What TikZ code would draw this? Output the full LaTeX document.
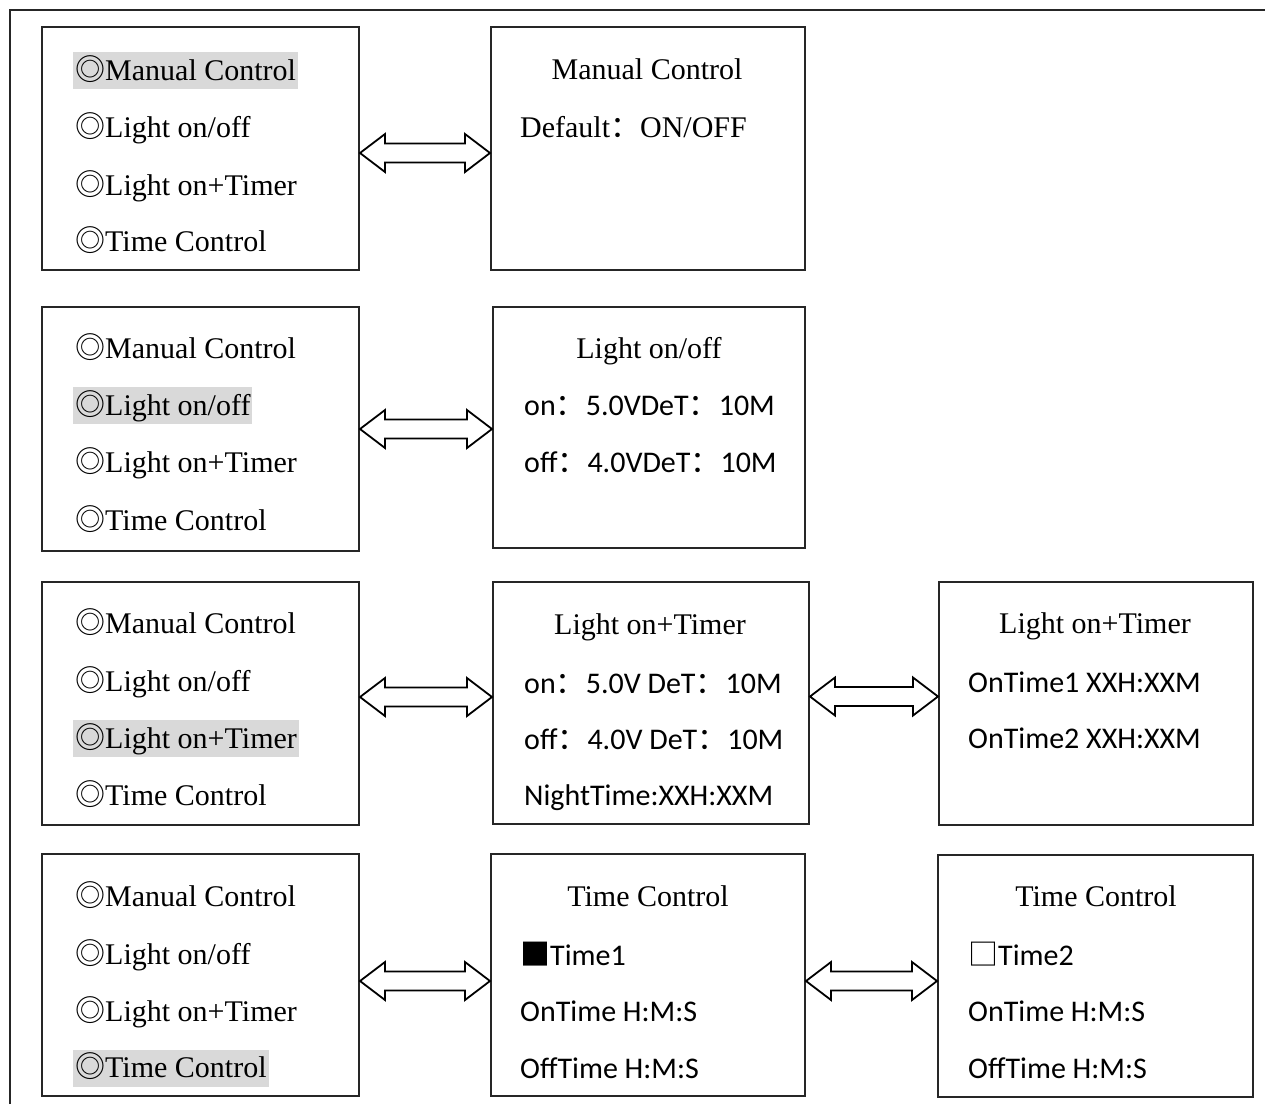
\documentclass[tikz,border=0pt]{standalone}
\usepackage{fontspec}
\setmainfont{Liberation Serif}
\newfontfamily\cjkfont{Noto Sans CJK SC}
\newfontfamily\calfont{Carlito}
\usetikzlibrary{calc}
\newcommand\dcirc{{\cjkfont ◎}}
\newcommand\fwc{{\cjkfont ：}}
\begin{document}
\begin{tikzpicture}[x=1pt,y=-1pt,
  panel/.style={draw=black!85, line width=2pt, rectangle, inner sep=0pt, anchor=north west},
  txt/.style={inner xsep=2pt, inner ysep=3pt, text height=25pt, text depth=6pt,
              font=\fontsize{30}{36}\selectfont},
  item/.style={txt, anchor=west},
  sans/.style={txt, anchor=west, font=\fontsize{30}{36}\selectfont\calfont},
  title/.style={txt, anchor=center},
  sel/.style={fill=black!15},
  fatarrow/.style={draw=black, line width=1.8pt, fill=white, line join=miter,
    to path={let \p1=(\tikztostart), \p2=(\tikztotarget) in
      (\x1,\y1) -- (\x1+25pt,\y1+19pt) -- (\x1+25pt,\y1+9.5pt) -- (\x2-25pt,\y1+9.5pt)
      -- (\x2-25pt,\y1+19pt) -- (\x2,\y1) -- (\x2-25pt,\y1-19pt) -- (\x2-25pt,\y1-9.5pt)
      -- (\x1+25pt,\y1-9.5pt) -- (\x1+25pt,\y1-19pt) -- cycle}}
]
\useasboundingbox (0,0) rectangle (1265,1104);
% outer frame
\draw[line width=1.8pt, black!85] (10,1104) -- (10,10) -- (1265,10);

% ---------- row 1 ----------
\node[panel, minimum width=317pt, minimum height=243pt] (L1) at (41,26) {};
\node[panel, minimum width=314pt, minimum height=243pt] (M1) at (490,26) {};
\node[item, sel] (L1a) at (73,70.5) {\dcirc Manual Control};
\node[item] (L1b) at (73,127.5) {\dcirc Light on/off};
\node[item] (L1c) at (73,186) {\dcirc Light on+Timer};
\node[item] (L1d) at (73,241.5) {\dcirc Time Control};
\node[title] (M1t) at (647,70) {Manual Control};
\node[item] (M1a) at (518,128) {Default\fwc ON/OFF};
\coordinate (A1) at ([yshift=-4.5pt]L1.east);
\draw[fatarrow] (A1) to (M1.west);

% ---------- row 2 ----------
\node[panel, minimum width=317pt, minimum height=244pt] (L2) at (41,306) {};
\node[panel, minimum width=312pt, minimum height=241pt] (M2) at (492,306) {};
\node[item] (L2a) at (73,349) {\dcirc Manual Control};
\node[item, sel] (L2b) at (73,405.5) {\dcirc Light on/off};
\node[item] (L2c) at (73,463) {\dcirc Light on+Timer};
\node[item] (L2d) at (73,520.5) {\dcirc Time Control};
\node[title] (M2t) at (649,349) {Light on/off};
\node[sans] (M2a) at (522,406) {on\fwc 5.0VDeT\fwc 10M};
\node[sans] (M2b) at (522,463) {off\fwc 4.0VDeT\fwc 10M};
\coordinate (A2) at (L2.east);
\draw[fatarrow] (A2) to (M2.west);

% ---------- row 3 ----------
\node[panel, minimum width=317pt, minimum height=243pt] (L3) at (41,581) {};
\node[panel, minimum width=316pt, minimum height=242pt] (M3) at (492,581) {};
\node[panel, minimum width=314pt, minimum height=243pt] (R3) at (938,581) {};
\node[item] (L3a) at (73,624) {\dcirc Manual Control};
\node[item] (L3b) at (73,682) {\dcirc Light on/off};
\node[item, sel] (L3c) at (73,738.5) {\dcirc Light on+Timer};
\node[item] (L3d) at (73,795.5) {\dcirc Time Control};
\node[title] (M3t) at (650,625) {Light on+Timer};
\node[sans] (M3a) at (522,684) {on\fwc 5.0V DeT\fwc 10M};
\node[sans] (M3b) at (522,740) {off\fwc 4.0V DeT\fwc 10M};
\node[sans] (M3c) at (522,796) {NightTime:XXH:XXM};
\node[title] (R3t) at (1095,624) {Light on+Timer};
\node[sans] (R3a) at (966,682.5) {OnTime1 XXH:XXM};
\node[sans] (R3b) at (966,738.5) {OnTime2 XXH:XXM};
\coordinate (A3) at ([yshift=6.5pt]L3.east);
\draw[fatarrow] (A3) to (M3.west);
\coordinate (B3) at ([yshift=6.5pt]M3.east);
\draw[fatarrow] (B3) to (R3.west);

% ---------- row 4 ----------
\node[panel, minimum width=317pt, minimum height=242pt] (L4) at (41,853) {};
\node[panel, minimum width=314pt, minimum height=242pt] (M4) at (490,853) {};
\node[panel, minimum width=315pt, minimum height=242pt] (R4) at (937,854) {};
\node[item] (L4a) at (73,897) {\dcirc Manual Control};
\node[item] (L4b) at (73,955) {\dcirc Light on/off};
\node[item] (L4c) at (73,1011.5) {\dcirc Light on+Timer};
\node[item, sel] (L4d) at (73,1068) {\dcirc Time Control};
\node[title] (M4t) at (648,897) {Time Control};
\node[sans] (M4a) at (518,956) {{\cjkfont ■}Time1};
\node[sans] (M4b) at (518,1012) {OnTime H:M:S};
\node[sans] (M4c) at (518,1069) {OffTime H:M:S};
\node[title] (R4t) at (1096,897) {Time Control};
\node[sans] (R4a) at (966,956) {{\cjkfont □}Time2};
\node[sans] (R4b) at (966,1012) {OnTime H:M:S};
\node[sans] (R4c) at (966,1069) {OffTime H:M:S};
\coordinate (A4) at ([yshift=-6pt]L4.east);
\draw[fatarrow] (A4) to (M4.west);
\coordinate (B4) at ([yshift=-6pt]M4.east);
\draw[fatarrow] (B4) to (R4.west);
\end{tikzpicture}
\end{document}
